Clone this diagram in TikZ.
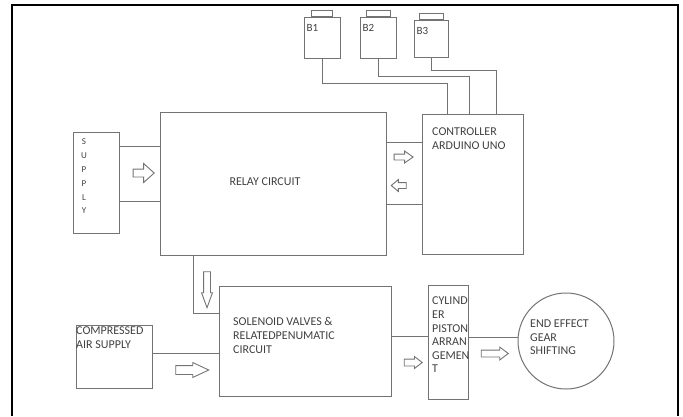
\documentclass[tikz,border=0pt]{standalone}
\usepackage{fontspec}
\setmainfont{Carlito}
\usetikzlibrary{shapes.arrows}
\definecolor{linegray}{RGB}{115,115,115}
\definecolor{txtgray}{RGB}{65,65,65}
\tikzset{
  blk/.style={draw=linegray,line width=1pt,inner sep=0pt},
  wire/.style={draw=linegray,line width=1pt},
  lbl/.style={text=txtgray,font=\fontsize{12}{14}\selectfont,align=left,inner sep=0pt},
  hollow/.style={single arrow,draw=linegray,line width=0.9pt,fill=white,inner sep=0pt,minimum width=0pt,text width=0pt,text height=#1,text depth=#1,single arrow head indent=0pt},
}
\begin{document}
\begin{tikzpicture}[x=1pt,y=-1pt]
\useasboundingbox (0,0) rectangle (683,416);
\draw[line width=2.2pt] (12,416) -- (12,5) -- (678,5) -- (678,416);
% push buttons
\node[blk,minimum width=36pt,minimum height=41pt] (b1) at (322,37.5) {};
\node[blk,minimum width=36pt,minimum height=41pt] (b2) at (378,37.5) {};
\node[blk,minimum width=34pt,minimum height=37pt] (b3) at (431,38.5) {};
\foreach \N/\W in {b1/21pt,b2/24pt,b3/24pt}{\node[blk,minimum width=\W,minimum height=6pt,anchor=south] (\N-cap) at (\N.north) {};}
\foreach \N/\T in {b1/B1,b2/B2,b3/B3}{\node[lbl,font=\fontsize{11}{13}\selectfont,anchor=north west] (\N-txt) at ([xshift=3pt,yshift=-8pt]\N.north west) {\T};}
% blocks
\node[blk,minimum width=226pt,minimum height=143pt] (relay) at (273,183.5) {};
\node[blk,minimum width=101pt,minimum height=140pt] (ctrl) at (472.5,184) {};
\node[blk,minimum width=46pt,minimum height=101pt] (sup) at (96,182.5) {};
\node[blk,minimum width=172pt,minimum height=110pt] (sol) at (305,341) {};
\node[blk,minimum width=76pt,minimum height=63pt] (comp) at (114,356.5) {};
\node[blk,minimum width=40pt,minimum height=114pt] (cyl) at (448,342) {};
\node[blk,circle,minimum size=96pt] (gear) at (566,341) {};
% texts
\node[lbl] (relay-txt) at (265,182) {RELAY CIRCUIT};
\node[lbl,anchor=north west] (ctrl-txt) at (432,128) {CONTROLLER\\ARDUINO UNO};
\node[lbl,font=\fontsize{9}{13.8}\selectfont,align=center] (sup-txt) at (84,176.5) {S\\U\\P\\P\\L\\Y};
\node[lbl,anchor=north west] (sol-txt) at (233,317) {SOLENOID VALVES \&\\RELATEDPENUMATIC\\CIRCUIT};
\node[lbl,anchor=north west] (comp-txt) at (76,327) {COMPRESSED\\AIR SUPPLY};
\node[lbl,font=\fontsize{12}{13.6}\selectfont,anchor=north west] (cyl-txt) at (432,297) {CYLIND\\ER\\PISTON\\ARRAN\\GEMEN\\T};
\node[lbl,font=\fontsize{12}{13.5}\selectfont,anchor=north west] (gear-txt) at (530,320) {END EFFECT\\GEAR\\SHIFTING};
% wires
\draw[wire] (b1.south) -- ++(0,25) -| ([xshift=-25.5pt]ctrl.north);
\draw[wire] (b2.south) -- ++(0,18) -| ([xshift=-3.5pt]ctrl.north);
\draw[wire] (b3.south) -- ++(0,13) -| ([xshift=23.5pt]ctrl.north);
\foreach \Y in {146,201}{\draw[wire] (sup.east |- 0,\Y) -- (relay.west |- 0,\Y);}
\foreach \Y in {142,204}{\draw[wire] (relay.east |- 0,\Y) -- (ctrl.west |- 0,\Y);}
\draw[wire] (relay.south -| 193,0) |- (sol.west |- 0,313);
\draw[wire] (comp.east |- 0,353) -- (sol.west |- 0,353);
\draw[wire] (sol.east |- 0,336) -- (cyl.west |- 0,336);
\draw[wire] (cyl.east |- 0,337) -- (gear.west |- 0,337);
% block arrows
\node[hollow=3.5pt,minimum height=21pt,single arrow head extend=5.5pt,single arrow tip angle=84] (a-sup) at (141.5,173) {};
\node[hollow=2.5pt,minimum height=19pt,single arrow head extend=3pt,single arrow tip angle=70] (a-out) at (401.5,157) {};
\node[hollow=2.5pt,minimum height=15pt,single arrow head extend=3pt,single arrow tip angle=80,shape border rotate=180] (a-in) at (400.5,185.5) {};
\node[hollow=0pt,text width=6pt,minimum height=36pt,single arrow head extend=2pt,single arrow tip angle=40,shape border rotate=270] (a-down) at (207,285) {};
\node[hollow=4pt,minimum height=33pt,single arrow head extend=3pt,single arrow tip angle=50] (a-air) at (187.5,370) {};
\node[hollow=3pt,minimum height=18pt,single arrow head extend=2.5pt,single arrow tip angle=75] (a-cyl) at (411,362.5) {};
\node[hollow=3pt,minimum height=27pt,single arrow head extend=3pt,single arrow tip angle=74] (a-gear) at (492.5,353.5) {};
\end{tikzpicture}
\end{document}
